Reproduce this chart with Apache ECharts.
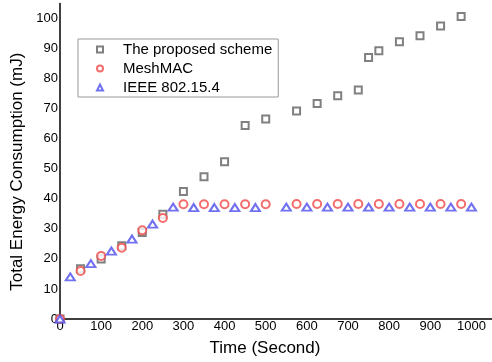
<!DOCTYPE html>
<html>
<head>
<meta charset="utf-8">
<script src="https://cdn.jsdelivr.net/npm/echarts@6/dist/echarts.min.js"></script>
<style>html,body{margin:0;padding:0;background:#fff}#c{width:492px;height:362px}</style>
</head>
<body>
<div id="c"></div>
<script>
var proposedT = [0,50,100,150,200,250,300,350,400,450,500,575,625,675,725,750,775,825,875,925,975];
var proposedV = [0,16.7,20,24.4,28.8,34.9,42.4,47.3,52.3,64.4,66.6,69.2,71.7,74.3,76.2,87,89.3,92.3,94.3,97.5,100.7];
var meshT = [0,50,100,150,200,250,300,350,400,450,500,575,625,675,725,775,825,875,925,975];
var meshV = [0,16,21,23.7,29.5,33.6,38.2,38.2,38.2,38.2,38.2,38.3,38.3,38.3,38.3,38.3,38.3,38.3,38.3,38.3];
var ieeeT = [0,25,75,125,175,225,275,325,375,425,475,550,600,650,700,750,800,850,900,950,1000];
var ieeeV = [0,14,18.4,22.6,26.6,31.6,37.2,37.1,37.1,37.1,37.1,37.2,37.2,37.2,37.2,37.2,37.2,37.2,37.2,37.2,37.2];
var xTicks = [0,100,200,300,400,500,600,700,800,900,1000];
var yTicks = [0,10,20,30,40,50,60,70,80,90,100];

function pairs(t, v) { return t.map(function (x, i) { return [x, v[i]]; }); }
var FONT = "'Liberation Sans', Arial, sans-serif";

var chart = echarts.init(document.getElementById('c'), null, {renderer: 'canvas'});
chart.setOption({
  animation: false,
  backgroundColor: '#fff',
  grid: {left: 60, right: 0, top: 3.5, bottom: 40.3, containLabel: false},
  legend: {
    orient: 'vertical',
    left: 78, top: 39,
    padding: [3, 6, 2, 18],
    itemGap: 4,
    itemWidth: 6, itemHeight: 6,
    borderColor: '#999', borderWidth: 1,
    backgroundColor: '#fff',
    itemStyle: {borderWidth: 0.8},
    textStyle: {fontFamily: FONT, fontSize: 15, color: '#000', lineHeight: 15, padding: [0, 0, 0, 15]},
    data: ['The proposed scheme', 'MeshMAC', 'IEEE 802.15.4']
  },
  xAxis: {
    type: 'value', min: 0, max: 1050, interval: 100,
    name: 'Time (Second)', nameLocation: 'middle', nameGap: 21,
    nameTextStyle: {fontFamily: FONT, fontSize: 17, color: '#000', padding: [0, 22, 0, 0]},
    axisLine: {show: true, lineStyle: {color: '#000', width: 1.5}},
    axisTick: {show: false},
    minorTick: {show: false},
    splitLine: {show: false},
    axisLabel: {
      fontFamily: FONT, fontSize: 13, color: '#000', margin: 1, showMaxLabel: false,
      formatter: function (v) { return xTicks.indexOf(v) >= 0 ? String(v) : ''; }
    }
  },
  yAxis: {
    type: 'value', min: 0, max: 105, interval: 10,
    name: 'Total Energy Consumption (mJ)', nameLocation: 'middle', nameGap: 31,
    nameTextStyle: {fontFamily: FONT, fontSize: 17, color: '#000', padding: [0, 21, 0, 0]},
    axisLine: {show: true, lineStyle: {color: '#000', width: 1.5}},
    axisTick: {show: false},
    minorTick: {show: false},
    splitLine: {show: false},
    axisLabel: {
      fontFamily: FONT, fontSize: 13, color: '#000', margin: 2, showMaxLabel: false,
      formatter: function (v) { return yTicks.indexOf(v) >= 0 ? String(v) : ''; }
    }
  },
  series: [
    {
      name: 'The proposed scheme', type: 'scatter', symbol: 'emptyRect', symbolSize: 7,
      itemStyle: {color: '#606060', borderWidth: 1}, data: pairs(proposedT, proposedV), clip: false
    },
    {
      name: 'MeshMAC', type: 'scatter', symbol: 'emptyCircle', symbolSize: 8,
      itemStyle: {color: '#f04848', borderWidth: 1}, data: pairs(meshT, meshV), clip: false
    },
    {
      name: 'IEEE 802.15.4', type: 'scatter', symbol: 'emptyTriangle', symbolSize: [9, 7],
      itemStyle: {color: '#4c4cec', borderWidth: 1}, data: pairs(ieeeT, ieeeV), clip: false
    }
  ]
});
</script>
</body>
</html>
